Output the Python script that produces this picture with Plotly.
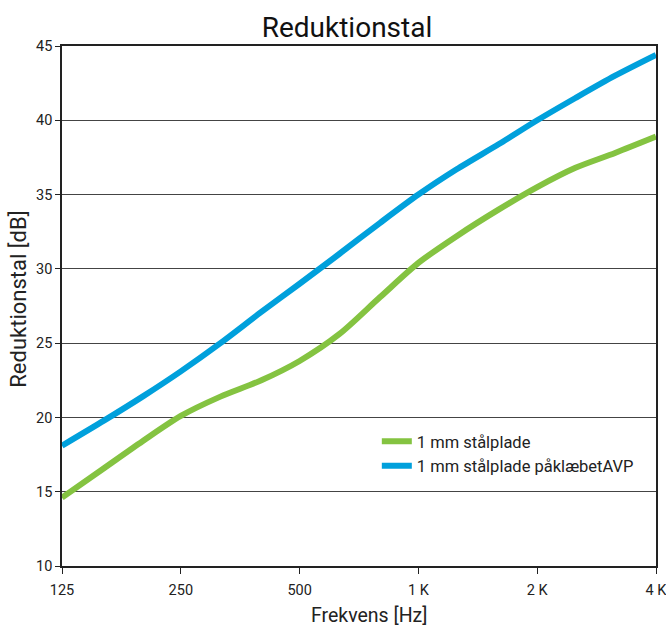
import plotly.graph_objects as go

freqs = [125, 160, 200, 250, 315, 400, 500, 630, 800, 1000, 1250, 1600, 2000, 2500, 3150, 4000]
steel = [14.6, 16.6, 18.4, 20.1, 21.4, 22.5, 23.8, 25.6, 28.1, 30.4, 32.2, 34.0, 35.5, 36.8, 37.8, 38.9]
steel_avp = [18.1, 19.8, 21.4, 23.1, 25.0, 27.1, 29.0, 31.0, 33.1, 35.0, 36.7, 38.4, 40.0, 41.5, 43.0, 44.4]
names = ["1 mm stålplade", "1 mm stålplade påklæbetAVP"]
xtick_vals = [125, 250, 500, 1000, 2000, 4000]
xtick_text = ["125", "250", "500", "1 K", "2 K", "4 K"]
ytick_vals = [10, 15, 20, 25, 30, 35, 40, 45]
x_title = "Frekvens [Hz]"
y_title = "Reduktionstal [dB]"

FONT = "Roboto"

fig = go.Figure()
fig.add_trace(go.Scatter(x=freqs, y=steel, name=names[0], mode="lines",
                         line=dict(color="#84c341", width=6, shape="spline", smoothing=0.8)))
fig.add_trace(go.Scatter(x=freqs, y=steel_avp, name=names[1], mode="lines",
                         line=dict(color="#00a0dc", width=6, shape="spline", smoothing=0.8)))

fig.update_layout(
    width=666, height=626,
    margin=dict(l=62, r=10, t=46, b=60, autoexpand=False),
    paper_bgcolor="white", plot_bgcolor="white",
    font=dict(family=FONT, color="#222", size=14.5),
    title=dict(text="Reduktionstal", x=0.521, xanchor="center", y=0.957, yanchor="middle",
               font=dict(size=28, color="#111", family=FONT)),
    legend=dict(x=0.530, y=0.273, xanchor="left", yanchor="top",
                bgcolor="rgba(0,0,0,0)", font=dict(size=16.5, color="#222"),
                tracegroupgap=0),
    showlegend=True,
    annotations=[
        dict(text=y_title, xref="paper", yref="paper",
             x=-0.0724, y=0.514, textangle=-90, showarrow=False,
             xanchor="center", yanchor="middle",
             font=dict(size=22, color="#222", family=FONT)),
        dict(text=x_title, xref="paper", yref="paper",
             x=0.517, y=-0.096, showarrow=False,
             xanchor="center", yanchor="middle",
             font=dict(size=19.5, color="#222", family=FONT)),
    ],
)
fig.update_xaxes(type="log", range=[2.0969100, 3.6020600], automargin=False,
                 tickvals=xtick_vals, ticktext=xtick_text, ticklabeloverflow="allow",
                 ticklabelstandoff=4,
                 showgrid=False, showline=True, linecolor="#222", linewidth=1.5, mirror=True,
                 ticks="outside", ticklen=6, tickcolor="#222",
                 zeroline=False)
fig.update_yaxes(range=[10, 45], tickvals=ytick_vals, automargin=False,
                 showgrid=True, gridcolor="#444", gridwidth=1,
                 showline=True, linecolor="#222", linewidth=1.5, mirror=True,
                 ticks="outside", ticklen=5, tickcolor="#222",
                 zeroline=False)

fig.write_html("out.html", config={"displayModeBar": False},
               post_script="document.body.style.margin='0px';document.body.style.overflow='hidden';")
